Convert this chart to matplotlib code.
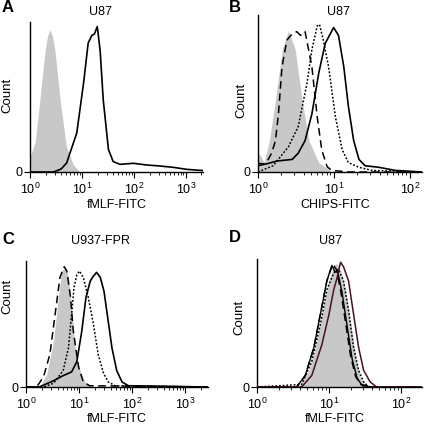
import numpy as np
import matplotlib
matplotlib.use("Agg")
from matplotlib import pyplot as plt
from matplotlib.ticker import LogLocator, NullFormatter

plt.rcParams['font.family'] = ['Liberation Sans', 'DejaVu Sans']
plt.rcParams['mathtext.default'] = 'regular'

# Panel A: U87, fMLF-FITC (x as log10 of fluorescence, y as relative count)
a_gray_x = [0.0, 0.1, 0.19, 0.29, 0.34, 0.385, 0.43, 0.48, 0.58, 0.70, 0.83, 0.96]
a_gray_y = [0.10, 0.20, 0.48, 0.81, 0.91, 0.947, 0.91, 0.81, 0.48, 0.17, 0.05, 0.0]
a_fmlf_x = [0.0, 0.45, 0.6, 0.705, 0.9, 1.03, 1.12, 1.19, 1.24, 1.295, 1.35, 1.41,
            1.51, 1.6, 1.73, 1.99, 2.24, 2.5, 2.76, 3.01, 3.27, 3.33]
a_fmlf_y = [0.0, 0.0, 0.02, 0.06, 0.26, 0.59, 0.86, 0.91, 0.92, 0.97, 0.81, 0.48,
            0.15, 0.07, 0.051, 0.058, 0.047, 0.04, 0.031, 0.018, 0.011, 0.01]

# Panel B: U87, CHIPS-FITC
b_gray_x = [0.0, 0.04, 0.08, 0.15, 0.23, 0.32, 0.40, 0.49, 0.58, 0.67, 0.80, 0.95]
b_gray_y = [0.12, 0.10, 0.06, 0.20, 0.46, 0.78, 0.90, 0.78, 0.46, 0.20, 0.06, 0.01]
b_dash_x = [0.0, 0.1, 0.18, 0.23, 0.27, 0.316, 0.38, 0.45, 0.51, 0.56, 0.62,
            0.71, 0.78, 0.84, 0.91, 0.97, 1.2, 2.16]
b_dash_y = [0.04, 0.05, 0.12, 0.20, 0.374, 0.67, 0.84, 0.88, 0.894, 0.87, 0.894,
            0.67, 0.35, 0.14, 0.034, 0.01, 0.0, 0.0]
b_dot_x = [0.0, 0.2, 0.40, 0.53, 0.645, 0.71, 0.78, 0.81, 0.86, 0.93, 1.02,
           1.11, 1.19, 1.33, 1.5, 2.16]
b_dot_y = [0.0, 0.04, 0.16, 0.29, 0.565, 0.78, 0.93, 0.94, 0.84, 0.67, 0.35,
           0.14, 0.06, 0.03, 0.01, 0.0]
b_solid_x = [0.0, 0.1, 0.25, 0.45, 0.53, 0.62, 0.71, 0.80, 0.886, 0.996, 1.06,
             1.13, 1.19, 1.26, 1.33, 1.41, 1.59, 1.81, 2.16]
b_solid_y = [0.055, 0.05, 0.07, 0.08, 0.12, 0.20, 0.37, 0.63, 0.82, 0.92, 0.87,
             0.67, 0.42, 0.20, 0.08, 0.04, 0.03, 0.01, 0.0]

# Panel C: U937-FPR, fMLF-FITC
c_gray_x = [0.26, 0.39, 0.52, 0.61, 0.67, 0.74, 0.80, 0.86, 0.925, 1.02, 1.11, 1.21]
c_gray_y = [0.0, 0.10, 0.37, 0.71, 0.92, 0.95, 0.87, 0.63, 0.31, 0.13, 0.04, 0.01]
c_dash_x = [0.0, 0.2, 0.33, 0.45, 0.55, 0.64, 0.72, 0.77, 0.84, 0.89, 0.99,
            1.08, 1.2, 3.43]
c_dash_y = [0.0, 0.0, 0.08, 0.26, 0.58, 0.87, 0.955, 0.92, 0.71, 0.45, 0.16,
            0.04, 0.01, 0.0]
c_dot_x = [0.0, 0.33, 0.52, 0.70, 0.80, 0.86, 0.905, 0.957, 1.006, 1.08, 1.175,
           1.27, 1.36, 1.46, 1.55, 1.68, 3.43]
c_dot_y = [0.0, 0.0, 0.03, 0.13, 0.31, 0.58, 0.79, 0.89, 0.92, 0.87, 0.71,
           0.50, 0.26, 0.11, 0.04, 0.01, 0.0]
c_solid_x = [0.0, 0.25, 0.52, 0.70, 0.86, 0.957, 1.05, 1.13, 1.21, 1.27, 1.33,
             1.40, 1.47, 1.53, 1.62, 1.71, 1.81, 1.93, 3.43]
c_solid_y = [0.0, 0.0, 0.05, 0.09, 0.12, 0.20, 0.44, 0.71, 0.84, 0.88, 0.91,
             0.87, 0.76, 0.58, 0.31, 0.13, 0.04, 0.01, 0.0]

# Panel D: U87, fMLF-FITC
d_gray_x = [0.58, 0.72, 0.81, 0.90, 1.0, 1.065, 1.11, 1.16, 1.23, 1.30, 1.37, 1.43, 1.50]
d_gray_y = [0.0, 0.13, 0.31, 0.57, 0.83, 0.95, 0.965, 0.91, 0.76, 0.50, 0.24, 0.08, 0.02]
d_black_x = [0.0, 0.55, 0.67, 0.79, 0.88, 0.97, 1.04, 1.08, 1.12, 1.18, 1.25,
             1.32, 1.39, 1.46, 1.6, 2.29]
d_black_y = [0.0, 0.0, 0.09, 0.31, 0.57, 0.83, 0.95, 0.90, 0.90, 0.74, 0.48,
             0.22, 0.07, 0.01, 0.0, 0.0]
d_dash_x = [0.0, 0.55, 0.67, 0.79, 0.88, 0.97, 1.05, 1.10, 1.16, 1.23, 1.30,
            1.37, 1.44, 1.6, 2.29]
d_dash_y = [0.0, 0.0, 0.09, 0.31, 0.57, 0.83, 0.96, 0.92, 0.76, 0.50, 0.24,
            0.08, 0.02, 0.0, 0.0]
d_dot_x = [0.0, 0.62, 0.76, 0.88, 0.97, 1.065, 1.13, 1.20, 1.27, 1.34, 1.41,
           1.48, 1.55, 2.29]
d_dot_y = [0.0, 0.02, 0.20, 0.49, 0.76, 0.89, 0.92, 0.83, 0.60, 0.31, 0.13,
           0.04, 0.0, 0.0]
d_red_x = [0.0, 0.62, 0.76, 0.90, 1.0, 1.065, 1.11, 1.16, 1.20, 1.27, 1.34,
           1.41, 1.48, 1.57, 1.66, 2.29]
d_red_y = [0.0, 0.0, 0.09, 0.33, 0.57, 0.76, 0.85, 0.975, 0.94, 0.83, 0.57,
           0.31, 0.13, 0.04, 0.0, 0.0]

W, H = 424, 428
GRAY = '#c8c8c8'
DASH = (0, (5, 3))
DOT = (0, (1.2, 1.2))


def px_axes(fig, left, right, top, bottom):
    return fig.add_axes([left / W, 1 - bottom / H, (right - left) / W, (bottom - top) / H])


def style(ax, xmax_log):
    ax.set_xscale('log')
    ax.set_xlim(1, 10 ** xmax_log)
    ax.set_ylim(0, 1)
    for s in ['top', 'right']:
        ax.spines[s].set_visible(False)
    for s in ['left', 'bottom']:
        ax.spines[s].set_linewidth(1.0)
    ax.set_yticks([0])
    ax.set_yticklabels(['0'])
    ax.xaxis.set_major_locator(LogLocator(base=10, numticks=10))
    ax.xaxis.set_minor_locator(LogLocator(base=10, subs=np.arange(2, 10), numticks=10))
    ax.xaxis.set_minor_formatter(NullFormatter())
    ax.tick_params(axis='x', which='major', direction='out', length=4, width=0.8,
                   labelsize=9, pad=3)
    ax.tick_params(axis='x', which='minor', direction='out', length=2.5, width=0.6)
    ax.tick_params(axis='y', direction='out', length=4, width=0.8, labelsize=9, pad=1.5)


def lx(v):
    return 10 ** np.array(v)


fig = plt.figure(figsize=(W / 100, H / 100), dpi=100)

# A
ax = px_axes(fig, 30, 203, 22, 172)
style(ax, 3.33)
ax.fill_between(lx(a_gray_x), a_gray_y, color=GRAY, lw=0)
ax.plot(lx(a_fmlf_x), a_fmlf_y, color='black', lw=1.2)

# B
ax = px_axes(fig, 258, 422, 15, 172)
style(ax, 2.16)
ax.fill_between(lx(b_gray_x), b_gray_y, color=GRAY, lw=0)
ax.plot(lx(b_dash_x), b_dash_y, color='black', lw=1.1, linestyle=DASH)
ax.plot(lx(b_dot_x), b_dot_y, color='black', lw=1.1, linestyle=DOT)
ax.plot(lx(b_solid_x), b_solid_y, color='black', lw=1.2)

# C
ax = px_axes(fig, 26, 208, 261, 387)
style(ax, 3.43)
ax.fill_between(lx(c_gray_x), c_gray_y, color=GRAY, lw=0)
ax.plot(lx(c_dash_x), c_dash_y, color='black', lw=1.1, linestyle=DASH)
ax.plot(lx(c_dot_x), c_dot_y, color='black', lw=1.1, linestyle=DOT)
ax.plot(lx(c_solid_x), c_solid_y, color='black', lw=1.2)

# D
ax = px_axes(fig, 257, 422, 259, 387)
style(ax, 2.29)
ax.fill_between(lx(d_gray_x), d_gray_y, color=GRAY, lw=0)
ax.plot(lx(d_black_x), d_black_y, color='black', lw=1.0)
ax.plot(lx(d_dash_x), d_dash_y, color='black', lw=1.1, linestyle=DASH)
ax.plot(lx(d_dot_x), d_dot_y, color='black', lw=1.1, linestyle=DOT)
ax.plot(lx(d_red_x), d_red_y, color='#4a1020', lw=1.1)


def ftext(x, y, s, **kw):
    fig.text(x / W, 1 - y / H, s, ha='center', va='center', **kw)


for letter, x, y in [('A', 8, 8), ('B', 235, 8), ('C', 8, 239), ('D', 235, 238)]:
    ftext(x, y, letter, fontsize=12, fontweight='bold')
for title, x, y in [('U87', 100, 12), ('U87', 338, 12), ('U937-FPR', 100, 241), ('U87', 331, 241)]:
    ftext(x, y, title, fontsize=9)
for lab, x, y in [('fMLF-FITC', 117, 205), ('CHIPS-FITC', 335, 205),
                  ('fMLF-FITC', 117, 419), ('fMLF-FITC', 335, 419)]:
    ftext(x, y, lab, fontsize=9)
for x, y in [(7, 95), (241, 100), (7, 296), (239, 317)]:
    ftext(x, y, 'Count', fontsize=9.5, rotation=90)

fig.savefig('out.png', dpi=100)
